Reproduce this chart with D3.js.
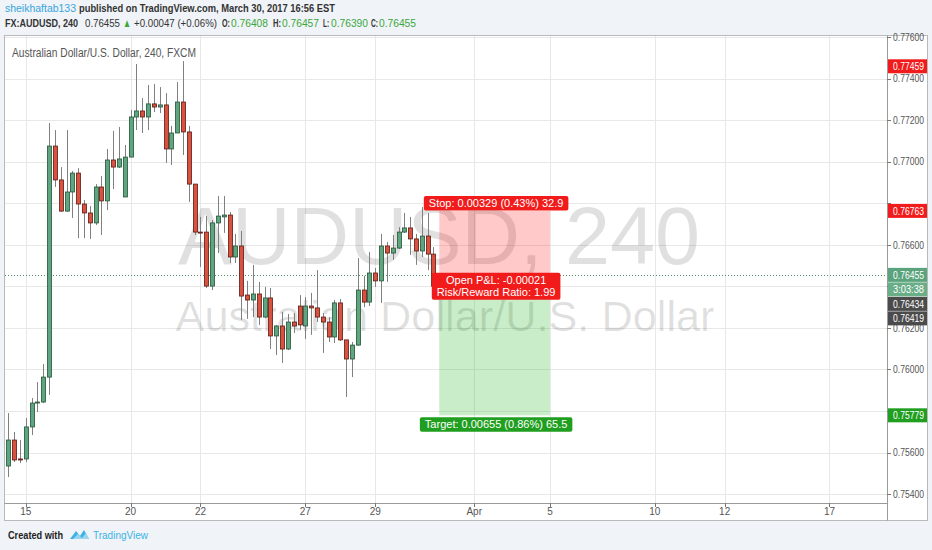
<!DOCTYPE html>
<html><head><meta charset="utf-8">
<script src="https://cdn.jsdelivr.net/npm/d3@7"></script>
<style>
body{margin:0;background:#f0f3f7;}
svg{display:block;font-family:"Liberation Sans",Arial,sans-serif;}
</style></head><body>
<svg id="c" width="932" height="550"></svg>
<script>
// ---- data ----
const open  = [0.75535,0.75660,0.75569,0.75569,0.75723,0.75838,0.75843,0.75963,0.77075,0.76912,
               0.76762,0.76854,0.76945,0.76796,0.76753,0.76705,0.76878,0.76811,0.77008,0.76974,
               0.76830,0.77022,0.77215,0.77244,0.77215,0.77278,0.77263,0.77273,0.77061,0.77138,
               0.77287,0.77143,0.76892,0.76661,0.76661,0.76401,0.76705,0.76734,0.76743,0.76541,
               0.76594,0.76358,0.76334,0.76363,0.76252,0.76344,0.76161,0.76209,0.76098,0.76228,
               0.76305,0.76209,0.76305,0.76296,0.76252,0.76228,0.76156,0.76320,0.76142,0.76050,
               0.76117,0.76382,0.76324,0.76464,0.76426,0.76594,0.76560,0.76584,0.76661,0.76681,
               0.76628,0.76570,0.76642,0.76555,0.76408];
const high  = [0.75790,0.75699,0.75660,0.75766,0.75862,0.75939,0.76026,0.77186,0.77152,0.76974,
               0.77152,0.76955,0.76969,0.76815,0.76787,0.76892,0.76931,0.77061,0.77148,0.77167,
               0.77080,0.77249,0.77470,0.77306,0.77369,0.77374,0.77359,0.77330,0.77172,0.77383,
               0.77484,0.77172,0.76892,0.76734,0.76738,0.76719,0.76835,0.76835,0.76758,0.76652,
               0.76666,0.76426,0.76503,0.76421,0.76397,0.76392,0.76214,0.76276,0.76267,0.76271,
               0.76358,0.76348,0.76368,0.76478,0.76271,0.76252,0.76334,0.76339,0.76142,0.76132,
               0.76536,0.76450,0.76565,0.76488,0.76652,0.76613,0.76647,0.76685,0.76753,0.76734,
               0.76652,0.76782,0.76753,0.76589,0.76457];
const low   = [0.75482,0.75554,0.75549,0.75554,0.75684,0.75795,0.75838,0.75877,0.76878,0.76758,
               0.76758,0.76729,0.76632,0.76632,0.76628,0.76695,0.76647,0.76767,0.76868,0.76969,
               0.76830,0.77022,0.77152,0.77138,0.77152,0.77239,0.77234,0.76994,0.76984,0.77138,
               0.77032,0.76806,0.76647,0.76493,0.76392,0.76382,0.76560,0.76657,0.76512,0.76512,
               0.76238,0.76243,0.76252,0.76214,0.76247,0.76098,0.76069,0.76031,0.76093,0.76175,
               0.76190,0.76146,0.76166,0.76228,0.76079,0.76132,0.76127,0.76137,0.75867,0.75963,
               0.76113,0.76300,0.76305,0.76397,0.76320,0.76421,0.76527,0.76580,0.76657,0.76551,
               0.76503,0.76541,0.76478,0.76397,0.76390];
const close = [0.75660,0.75564,0.75564,0.75723,0.75838,0.75843,0.75963,0.77075,0.76912,0.76762,
               0.76854,0.76945,0.76796,0.76753,0.76705,0.76878,0.76811,0.77008,0.76974,0.77013,
               0.77022,0.77215,0.77244,0.77215,0.77278,0.77263,0.77273,0.77061,0.77138,0.77287,
               0.77143,0.76892,0.76661,0.76659,0.76401,0.76705,0.76738,0.76743,0.76541,0.76594,
               0.76353,0.76334,0.76363,0.76252,0.76344,0.76161,0.76209,0.76098,0.76228,0.76209,
               0.76214,0.76305,0.76296,0.76252,0.76228,0.76156,0.76320,0.76142,0.76050,0.76117,
               0.76382,0.76324,0.76464,0.76426,0.76594,0.76560,0.76584,0.76661,0.76681,0.76628,
               0.76570,0.76642,0.76555,0.76401,0.76455];
const dateLabels = ["15","20","22","27","29","Apr","5","10","12","17"];
const dateBars   = [3,21,33,51,63,80,93,111,123,141];
const priceTicks = [0.754,0.756,0.758,0.760,0.762,0.764,0.766,0.768,0.770,0.772,0.774,0.776];
// position tool
const entryPrice = 0.76434, stopPrice = 0.76763, targetPrice = 0.75779;
const posStartBar = 74, posEndBar = 93;
const stopText = "Stop: 0.00329 (0.43%) 32.9";
const targetText = "Target: 0.00655 (0.86%) 65.5";
const pnlText = ["Open P&L: -0.00021","Risk/Reward Ratio: 1.99"];
// axis price labels
const lastPrice = 0.76455, countdown = "3:03:38";
const axisLabels = [
  {p:0.77459, t:"0.77459", fill:"#f21b1b"},
  {p:0.76763, t:"0.76763", fill:"#f21b1b"},
  {p:0.75779, t:"0.75779", fill:"#1f9e1f"}
];
const stackLabels = [
  {t:"0.76455", fill:"#5aa37c"},
  {t:countdown, fill:"#6aae88"},
  {t:"0.76434", fill:"#4b4b4b"},
  {t:"0.76419", fill:"#4b4b4b"}
];

// ---- layout ----
const svg = d3.select("#c");
const PL=5, PR=887, PT=36, PB=503, FR=927, FB=520;
const x = d3.scaleLinear().domain([0,150]).range([8.3, 8.3+150*5.824]);
const y = d3.scaleLinear().domain([0.754,0.776]).range([494.05,37]);

// header
svg.append("text").attr("x",5).attr("y",12).attr("font-size",11.5).attr("fill","#37a6de")
  .attr("textLength",71).attr("lengthAdjust","spacingAndGlyphs").text("sheikhaftab133");
svg.append("text").attr("x",79).attr("y",12).attr("font-size",11.5).attr("fill","#333").attr("font-weight","bold")
  .attr("textLength",256).attr("lengthAdjust","spacingAndGlyphs").text("published on TradingView.com, March 30, 2017 16:56 EST");
const seg2 = [
  {x:5,  w:73, t:"FX:AUDUSD, 240", c:"#333", b:true},
  {x:85, w:35, t:"0.76455", c:"#333"},
  {x:123,w:8,  t:"\u25B2", c:"#3aa83a"},
  {x:134,w:83, t:"+0.00047 (+0.06%)", c:"#333"},
  {x:222,w:8,  t:"O:", c:"#333", b:true},
  {x:231,w:37, t:"0.76408", c:"#3aa83a"},
  {x:273,w:8,  t:"H:", c:"#333", b:true},
  {x:282,w:37, t:"0.76457", c:"#3aa83a"},
  {x:323,w:6,  t:"L:", c:"#333", b:true},
  {x:331,w:37, t:"0.76390", c:"#3aa83a"},
  {x:371,w:7,  t:"C:", c:"#333", b:true},
  {x:379,w:37, t:"0.76455", c:"#3aa83a"}
];
svg.selectAll("text.h2").data(seg2).enter().append("text").attr("class","h2")
  .attr("x",d=>d.x).attr("y",27).attr("font-size",11.5).attr("fill",d=>d.c)
  .attr("font-weight",d=>d.b?"bold":"normal")
  .attr("textLength",d=>d.w).attr("lengthAdjust","spacingAndGlyphs").text(d=>d.t);

// chart frame
svg.append("rect").attr("x",4.5).attr("y",35.5).attr("width",FR-4).attr("height",FB-35)
  .attr("fill","#fff").attr("stroke","#b9b9b9");
svg.append("line").attr("x1",PR+0.5).attr("x2",PR+0.5).attr("y1",35.5).attr("y2",FB+0.5).attr("stroke","#9a9a9a");
svg.append("line").attr("x1",4.5).attr("x2",PR+0.5).attr("y1",PB+0.5).attr("y2",PB+0.5).attr("stroke","#9a9a9a");

svg.append("clipPath").attr("id","pane").append("rect").attr("x",PL).attr("y",PT).attr("width",PR-PL).attr("height",PB-PT);
const pane = svg.append("g").attr("clip-path","url(#pane)");

// grid
pane.selectAll("line.hg").data(priceTicks).enter().append("line").attr("class","hg")
  .attr("x1",PL).attr("x2",PR).attr("y1",d=>Math.round(y(d))+0.5).attr("y2",d=>Math.round(y(d))+0.5)
  .attr("stroke","#e8e8e8");
pane.selectAll("line.vg").data(dateBars).enter().append("line").attr("class","vg")
  .attr("y1",PT).attr("y2",PB).attr("x1",d=>Math.round(x(d))+0.5).attr("x2",d=>Math.round(x(d))+0.5)
  .attr("stroke","#e8e8e8");

// watermark
pane.append("text").attr("x",439).attr("y",264).attr("text-anchor","middle").attr("font-size",81)
  .attr("fill","#000").attr("fill-opacity",0.12).attr("textLength",522).attr("lengthAdjust","spacingAndGlyphs").text("AUDUSD, 240");
pane.append("text").attr("x",445).attr("y",331).attr("text-anchor","middle").attr("font-size",43)
  .attr("fill","#000").attr("fill-opacity",0.12).attr("textLength",539).attr("lengthAdjust","spacingAndGlyphs").text("Australian Dollar/U.S. Dollar");

// pane title
svg.append("text").attr("x",12).attr("y",57).attr("font-size",12).attr("fill","#555")
  .attr("textLength",184).attr("lengthAdjust","spacingAndGlyphs").text("Australian Dollar/U.S. Dollar, 240, FXCM");

// position tool zones
const zx0 = x(posStartBar), zx1 = x(posEndBar);
pane.append("rect").attr("x",zx0).attr("width",zx1-zx0).attr("y",y(stopPrice)).attr("height",y(entryPrice)-y(stopPrice))
  .attr("fill","rgba(255,0,0,0.21)");
pane.append("rect").attr("x",zx0).attr("width",zx1-zx0).attr("y",y(entryPrice)).attr("height",y(targetPrice)-y(entryPrice))
  .attr("fill","rgba(0,170,0,0.21)");

// current price dotted line
pane.append("line").attr("x1",PL).attr("x2",PR).attr("y1",Math.round(y(lastPrice))+0.5).attr("y2",Math.round(y(lastPrice))+0.5)
  .attr("stroke","#4f8f6c").attr("stroke-dasharray","1,2");

// candles
const idx = d3.range(open.length);
const cg = pane.append("g");
cg.selectAll("line.w").data(idx).enter().append("line")
  .attr("x1",i=>Math.round(x(i))+0.5).attr("x2",i=>Math.round(x(i))+0.5)
  .attr("y1",i=>y(high[i])).attr("y2",i=>y(low[i])).attr("stroke","#808080");
cg.selectAll("rect.b").data(idx).enter().append("rect")
  .attr("x",i=>Math.round(x(i))-1.5).attr("width",4)
  .attr("y",i=>y(Math.max(open[i],close[i])))
  .attr("height",i=>Math.max(1,Math.abs(y(open[i])-y(close[i]))))
  .attr("fill",i=>close[i]>=open[i]?"#5fa57f":"#d9523f")
  .attr("stroke",i=>close[i]>=open[i]?"#225437":"#5b1a13").attr("stroke-width",0.8);

// position labels
function boxLabel(lines, cx, yTop, fill){
  const g = svg.append("g");
  const lh = 12.5;
  const texts = lines.map((l,k)=>g.append("text").attr("x",cx).attr("y",yTop+11+k*lh).attr("text-anchor","middle")
    .attr("font-size",11).attr("fill","#fff").text(l));
  const w = d3.max(texts, t=>t.node().getComputedTextLength())+10, h = lines.length*lh+2;
  g.insert("rect","text").attr("x",cx-w/2).attr("y",yTop).attr("width",w).attr("height",h).attr("rx",2).attr("fill",fill);
}
const zc = (zx0+zx1)/2+1.5;
boxLabel([stopText], zc, y(stopPrice)-15, "#f21b1b");
boxLabel([targetText], zc, y(targetPrice)+2, "#1f9e1f");
boxLabel(pnlText, zc, y(lastPrice)-2, "#f21b1b");

// right axis ticks (labels under price tags are hidden, as on the original)
const tagYs = axisLabels.map(d=>y(d.p)).concat(stackLabels.map((d,k)=>y(lastPrice)+k*14.5));
const visibleTicks = priceTicks.filter(p=>tagYs.every(t=>Math.abs(y(p)-t)>9));
svg.selectAll("line.pt").data(priceTicks).enter().append("line")
  .attr("x1",PR).attr("x2",PR+4).attr("y1",d=>Math.round(y(d))+0.5).attr("y2",d=>Math.round(y(d))+0.5).attr("stroke","#777");
svg.selectAll("text.pt").data(visibleTicks).enter().append("text")
  .attr("x",893).attr("y",d=>y(d)+3.8).attr("font-size",10.5).attr("fill","#555")
  .attr("textLength",31).attr("lengthAdjust","spacingAndGlyphs").text(d=>d.toFixed(5));

// right axis price labels
function axisLabel(cy, t, fill){
  svg.append("rect").attr("x",PR+1).attr("y",cy-7).attr("width",FR-PR-1).attr("height",14).attr("fill",fill);
  svg.append("text").attr("x",893).attr("y",cy+4).attr("font-size",10.5).attr("fill","#fff")
    .attr("textLength",31).attr("lengthAdjust","spacingAndGlyphs").text(t);
}
axisLabels.forEach(d=>axisLabel(y(d.p), d.t, d.fill));
stackLabels.forEach((d,k)=>axisLabel(y(lastPrice)+k*14.5, d.t, d.fill));

// time axis
svg.selectAll("line.tt").data(dateBars).enter().append("line")
  .attr("x1",d=>Math.round(x(d))+0.5).attr("x2",d=>Math.round(x(d))+0.5).attr("y1",PB).attr("y2",PB+4).attr("stroke","#777");
svg.selectAll("text.tt").data(dateLabels).enter().append("text")
  .attr("x",(d,i)=>x(dateBars[i])).attr("y",515).attr("text-anchor","middle").attr("font-size",10).attr("fill","#555")
  .text(d=>d);

// footer
svg.append("text").attr("x",8).attr("y",539).attr("font-size",11).attr("font-weight","bold").attr("fill","#222")
  .attr("textLength",55).attr("lengthAdjust","spacingAndGlyphs").text("Created with");
const logo = svg.append("g").attr("transform","translate(70,528)");
logo.append("path").attr("d","M0,11 L6,3 L10,8 L14,2 L19,11 Z").attr("fill","#3bb3e4");
logo.append("path").attr("d","M3,11 L8,6 L12,10 L16,5 L19,11 Z").attr("fill","#9ad6f0");
svg.append("text").attr("x",93).attr("y",539).attr("font-size",11).attr("fill","#3bb3e4")
  .attr("textLength",55).attr("lengthAdjust","spacingAndGlyphs").text("TradingView");
</script>
</body></html>
